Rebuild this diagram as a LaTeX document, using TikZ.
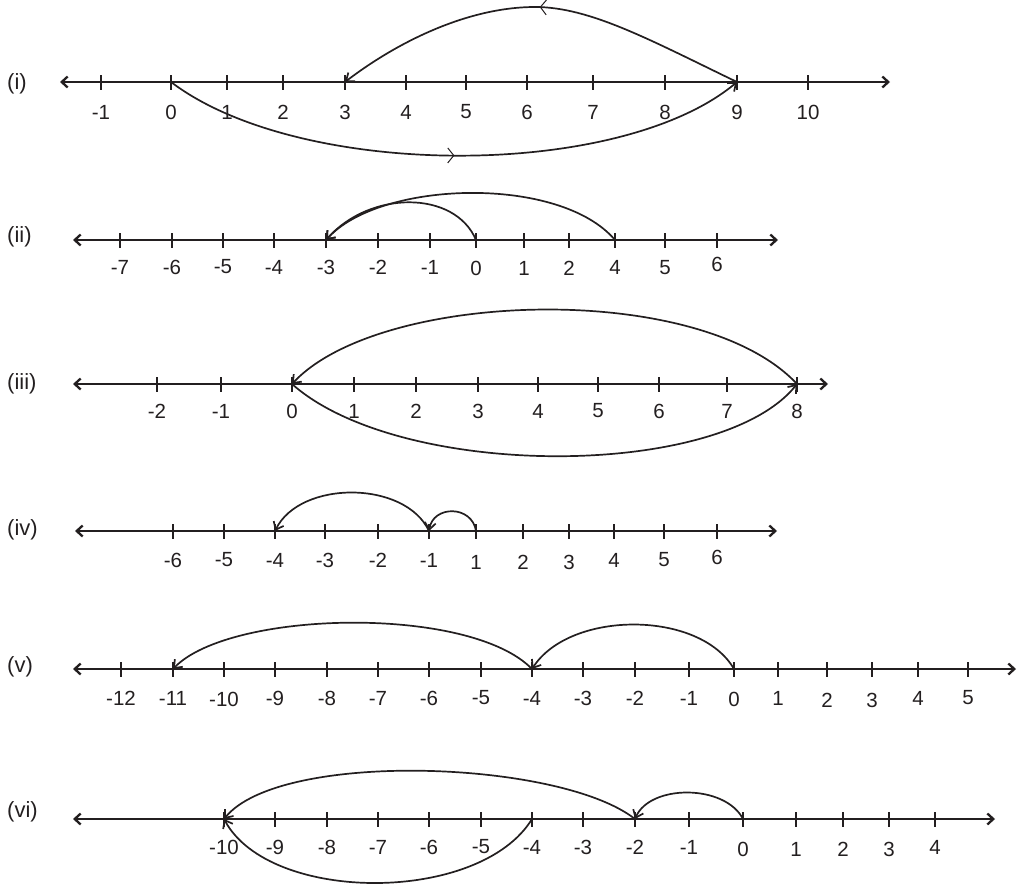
\documentclass[tikz,border=0pt]{standalone}
\usepackage{fontspec}
\setmainfont{Liberation Sans}
\usetikzlibrary{arrows.meta,decorations.markings}
\definecolor{ink}{RGB}{35,31,32}
\begin{document}
\begin{tikzpicture}[x=1pt,y=-1pt,
  axis/.style={line width=2.3pt, draw=ink, {Straight Barb[length=6pt,width=11pt]}-{Straight Barb[length=6pt,width=11pt]}},
  tickmark/.style={line width=2pt, draw=ink},
  num/.style={font=\fontsize{20.5}{20.5}\selectfont, text=ink, inner sep=0pt},
  rowlbl/.style={font=\fontsize{22}{22}\selectfont, text=ink, inner sep=0pt, anchor=west},
  jump/.style={line width=1.7pt, draw=ink, -{Straight Barb[length=7pt,width=11pt]}},
  midchev/.style={postaction={decorate}, decoration={markings, mark=at position 0.5 with {\arrow[ink]{Straight Barb[length=6pt,width=15pt,line width=1pt]}}}}
]
\useasboundingbox (0,0) rectangle (1019,886);

% ---------- (i) ----------
\node[rowlbl] (li) at (7,84) {(i)};
\coordinate (aL) at (60,82); \coordinate (aR) at (890,82);
\draw[axis] (aL) -- (aR);
\foreach \x/\l/\n in {101/-1/m1,171/0/0,227/1/1,283/2/2,345/3/3,406/4/4,466/5/5,527/6/6,593/7/7,665/8/8,737/9/9,808/10/10}{
  \coordinate (a\n) at (\x,82);
  \draw[tickmark] (\x,75) -- (\x,90);
  \node[num] (al\n) at (\x,112) {\l};
}
\draw[jump, midchev] (a9) .. controls (650,40) and (590,7) .. (535,7) .. controls (470,7) and (400,40) .. (a3);
\draw[jump, midchev] (a0) .. controls (300,180) and (620,180) .. (a9);

% ---------- (ii) ----------
\node[rowlbl] (lii) at (7,237) {(ii)};
\coordinate (bL) at (73,240); \coordinate (bR) at (778,240);
\draw[axis] (bL) -- (bR);
\foreach \x/\l/\n/\y in {120/-7/m7/267,172/-6/m6/267,223/-5/m5/267,274/-4/m4/267,326/-3/m3/267,378/-2/m2/267,430/-1/m1/267,476/0/0/268,524/1/1/268,569/2/2/268,615/4/4/267,665/5/5/268,717/6/6/264}{
  \coordinate (b\n) at (\x,240);
  \draw[tickmark] (\x,233) -- (\x,248);
  \node[num] (bl\n) at (\x,\y) {\l};
}
\draw[jump] (b0) .. controls (455,190) and (370,190) .. (bm3);
\draw[jump] (b4) .. controls (560,175) and (380,180) .. (bm3);

% ---------- (iii) ----------
\node[rowlbl] (liii) at (7,384) {(iii)};
\coordinate (cL) at (73,384); \coordinate (cR) at (828,384);
\draw[axis] (cL) -- (cR);
\foreach \x/\l/\n in {157/-2/m2,221/-1/m1,292/0/0,354/1/1,416/2/2,478/3/3,538/4/4,598/5/5,659/6/6,727/7/7,797/8/8}{
  \coordinate (c\n) at (\x,384);
  \draw[tickmark] (\x,377) -- (\x,392);
  \node[num] (cl\n) at (\x,411) {\l};
}
\draw[jump] (c8) .. controls (700,280) and (380,290) .. (c0);
\draw[jump] (c0) .. controls (400,480) and (720,480) .. (c8);

% ---------- (iv) ----------
\node[rowlbl] (liv) at (7,530) {(iv)};
\coordinate (dL) at (75,531); \coordinate (dR) at (777,531);
\draw[axis] (dL) -- (dR);
\foreach \x/\l/\n/\y in {173/-6/m6/560,224/-5/m5/560,275/-4/m4/560,325/-3/m3/560,378/-2/m2/560,429/-1/m1/560,476/1/1/562,523/2/2/562,569/3/3/562,614/4/4/560,664/5/5/560,717/6/6/557}{
  \coordinate (d\n) at (\x,531);
  \draw[tickmark] (\x,524) -- (\x,539);
  \node[num] (dl\n) at (\x,\y) {\l};
}
\draw[jump] (d1) .. controls (472,505) and (433,505) .. (dm1);
\draw[jump] (dm1) .. controls (405,480) and (300,480) .. (dm4);

% ---------- (v) ----------
\node[rowlbl] (lv) at (7,667) {(v)};
\coordinate (eL) at (73,669); \coordinate (eR) at (1016,669);
\draw[axis] (eL) -- (eR);
\foreach \x/\l/\n/\y in {121/-12/m12/698,173/-11/m11/698,224/-10/m10/699,275/-9/m9/698,327/-8/m8/698,378/-7/m7/698,429/-6/m6/698,481/-5/m5/698,532/-4/m4/698,583/-3/m3/698,635/-2/m2/698,689/-1/m1/698,734/0/0/699,778/1/1/698,827/2/2/700,872/3/3/700,918/4/4/698,968/5/5/698}{
  \coordinate (e\n) at (\x,669);
  \draw[tickmark] (\x,662) -- (\x,677);
  \node[num] (el\n) at (\x,\y) {\l};
}
\draw[jump] (e0) .. controls (700,610) and (570,610) .. (em4);
\draw[jump] (em4) .. controls (470,605) and (230,610) .. (em11);

% ---------- (vi) ----------
\node[rowlbl] (lvi) at (7,812) {(vi)};
\coordinate (fL) at (73,819); \coordinate (fR) at (995,819);
\draw[axis] (fL) -- (fR);
\foreach \x/\l/\n/\y in {224/-10/m10/847,275/-9/m9/847,327/-8/m8/847,378/-7/m7/847,429/-6/m6/847,481/-5/m5/847,532/-4/m4/847,583/-3/m3/847,635/-2/m2/847,689/-1/m1/847,743/0/0/849,796/1/1/849,843/2/2/849,889/3/3/849,935/4/4/847}{
  \coordinate (f\n) at (\x,819);
  \draw[tickmark] (\x,812) -- (\x,827);
  \node[num] (fl\n) at (\x,\y) {\l};
}
\draw[jump] (f0) .. controls (725,784) and (650,784) .. (fm2);
\draw[jump] (fm2) .. controls (560,760) and (280,750) .. (fm10);
\draw[jump] (fm4) .. controls (480,904) and (270,904) .. (fm10);
\end{tikzpicture}
\end{document}
